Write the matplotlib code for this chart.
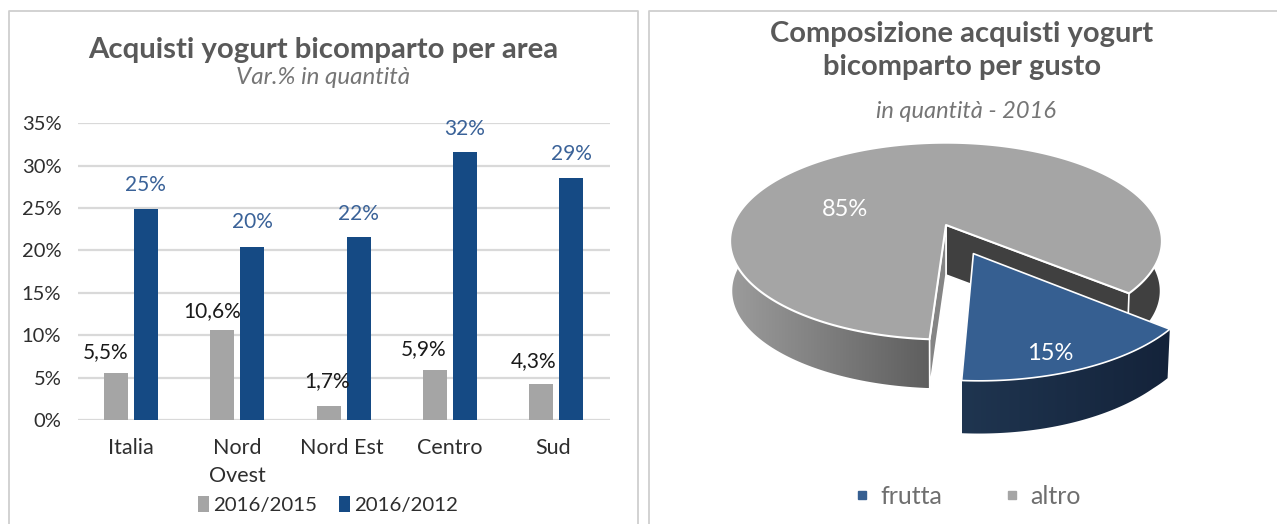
import matplotlib
matplotlib.use("Agg")
import matplotlib.pyplot as plt
from matplotlib.colors import LinearSegmentedColormap
from matplotlib.patches import Polygon
from matplotlib.lines import Line2D
from matplotlib.transforms import ScaledTranslation
import numpy as np

plt.rcParams['font.family'] = ['Lato', 'DejaVu Sans']

W, H = 1277, 524

# bar chart
areas = ["Italia", "Nord\nOvest", "Nord Est", "Centro", "Sud"]
var_2015 = [5.5, 10.6, 1.7, 5.9, 4.3]
var_2012 = [24.9, 20.4, 21.6, 31.6, 28.6]
yticks = [0, 5, 10, 15, 20, 25, 30, 35]
series_names = ["2016/2015", "2016/2012"]
# label nudges in px from the top-centre of each bar
nudge_2015 = [(-11, 21), (-10, 19), (-2, 24), (-11, 21), (-8, 22)]
nudge_2012 = [(-1, 24), (0, 25), (0, 23), (0, 23.5), (0, 24)]
# small sideways shift of the category names, px
area_shift = [0, 0, -2, 0, -3.5]

# pie chart
flavours = ["frutta", "altro"]
shares = [15, 85]

GREY = "#a5a5a5"
NAVY = "#154a84"
PIE_BLUE = "#365f91"
TEXT = "#2e2e2e"


def px_axes(x0, y0, x1, y1):
    return fig.add_axes([x0/W, 1 - y1/H, (x1 - x0)/W, (y1 - y0)/H])


def comma_pct(v):
    return f"{v:.1f}".replace(".", ",") + "%"


fig = plt.figure(figsize=(W/100, H/100), dpi=100)

# overlay in pixel coordinates, holds the frames and the pie
bg = fig.add_axes([0, 0, 1, 1])
bg.axis("off")

bg.plot([9, 9, 638, 638], [H, 10.5, 10.5, H], color="#cfcfcf", lw=1.3)
bg.plot([649, 649, W], [H, 10.5, 10.5], color="#cfcfcf", lw=1.3)

bg.text(323, 50, "Acquisti yogurt bicomparto per area", ha="center", va="center",
        fontsize=21.2, fontweight="bold", color="#595959")
bg.text(323, 78, "Var.% in quantità", ha="center", va="center",
        fontsize=17.4, style="italic", color="#757575")
bg.text(962, 34, "Composizione acquisti yogurt", ha="center", va="center",
        fontsize=21, fontweight="bold", color="#595959")
bg.text(962, 67, "bicomparto per gusto", ha="center", va="center",
        fontsize=21, fontweight="bold", color="#595959")
bg.text(966, 111, "in quantità - 2016", ha="center", va="center",
        fontsize=17, style="italic", color="#757575")

# bars
ax = px_axes(78, 123.3, 609.5, 420)
x = np.arange(len(areas))
b1 = ax.bar(x - 0.141, var_2015, width=0.226, color=GREY, label=series_names[0], zorder=3)
b2 = ax.bar(x + 0.141, var_2012, width=0.226, color=NAVY, label=series_names[1], zorder=3)
ax.set_xlim(-0.5, 4.5)
ax.set_ylim(0, 35)
ax.set_yticks(yticks)
ax.set_yticklabels([f"{t}%" for t in yticks])
ax.set_xticks(x)
ax.set_xticklabels(areas, linespacing=1.5)
ax.tick_params(axis="y", length=0, pad=12, labelsize=14.5, labelcolor=TEXT)
ax.tick_params(axis="x", length=0, pad=13, labelsize=15.5, labelcolor=TEXT)
for lab, dx in zip(ax.get_xticklabels(), area_shift):
    lab.set_transform(lab.get_transform() + ScaledTranslation(dx/100, 0, fig.dpi_scale_trans))
ax.grid(axis="y", color="#d9d9d9", lw=1.6, zorder=0)
ax.set_axisbelow(True)
for s in ax.spines.values():
    s.set_visible(False)
for v, xi, n in zip(var_2015, x - 0.141, nudge_2015):
    ax.annotate(comma_pct(v), (xi, v), xytext=(n[0]*0.72, n[1]*0.72), textcoords="offset points",
                ha="center", va="center", fontsize=15, color="#1a1a1a", zorder=5, annotation_clip=False)
for v, xi, n in zip(var_2012, x + 0.141, nudge_2012):
    ax.annotate(f"{v:.0f}%", (xi, v), xytext=(n[0]*0.72, n[1]*0.72), textcoords="offset points",
                ha="center", va="center", fontsize=15, color="#3a6298", zorder=5, annotation_clip=False)

fig.legend(handles=[b1, b2], loc="center", bbox_to_anchor=(328/W, 1 - 505/H), ncol=2, frameon=False,
           fontsize=14.7, handlelength=0.55, handleheight=0.8, handletextpad=0.2,
           columnspacing=1.05, labelcolor=TEXT)

# pie: perspective view of a unit disc
PX, PY = 946, 225
A, B, P = 213, 95.8, 0.1636
DEPTH, SHRINK = 50, 0.99
EXPLODE = 0.31
END_DEG = 93.7


def project(u, v, low=False):
    w = 1 - P*v
    if low:
        # the part that sticks out towards the viewer looks a bit thicker
        return PX + SHRINK*A*u/w, PY + SHRINK*B*v/w + DEPTH + 15*max(v - 1, 0)
    return PX + A*u/w, PY + B*v/w


def rim(deg, ox=0.0, oy=0.0, low=False):
    t = np.radians(deg)
    return project(np.cos(t) + ox, np.sin(t) + oy, low)


def wall(a0, a1, ox=0.0, oy=0.0):
    angs = np.linspace(a0, a1, 100)
    return [rim(d, ox, oy) for d in angs] + [rim(d, ox, oy, True) for d in angs[::-1]]


def shaded_wall(pts, left_col, right_col, z):
    # horizontal gradient clipped to the wall outline
    cmap = LinearSegmentedColormap.from_list("wall", [left_col, right_col])
    xs = [p[0] for p in pts]
    ys = [p[1] for p in pts]
    im = bg.imshow(np.linspace(0, 1, 256).reshape(1, -1), cmap=cmap, aspect="auto", zorder=z,
                   extent=(min(xs), max(xs), max(ys), min(ys)))
    poly = Polygon(pts, closed=True, fc="none", ec="none", zorder=z)
    bg.add_patch(poly)
    im.set_clip_path(poly)


blue_sweep = 360*shares[0]/sum(shares)
start_deg = END_DEG - blue_sweep
mid = np.radians(END_DEG - blue_sweep/2)
ox, oy = EXPLODE*np.cos(mid), EXPLODE*np.sin(mid)

# grey slice: outer wall, cut faces, top
bg.add_patch(Polygon(wall(start_deg, -12), fc="#404040", ec="none", zorder=2))
shaded_wall(wall(END_DEG, 192), "#9c9c9c", "#5e5e5e", 2)
r0 = rim(start_deg)
r1 = rim(END_DEG)
bot = (PX, PY + DEPTH)
bg.add_patch(Polygon([(PX, PY), r0, rim(start_deg, low=True), bot], fc="#404040", ec="white", lw=1.2, zorder=3))
bg.add_patch(Polygon([(PX, PY), r1, rim(END_DEG, low=True), bot], fc="#858585", ec="white", lw=1.2, zorder=3))
top = [(PX, PY)] + [rim(d) for d in np.linspace(start_deg, END_DEG - 360, 240)]
bg.add_patch(Polygon(top, fc=GREY, ec="white", lw=1.5, joinstyle="round", zorder=4))

# blue slice pulled out
shaded_wall(wall(END_DEG, start_deg, ox, oy), "#1f3550", "#14233a", 5)
top = [project(ox, oy)] + [rim(d, ox, oy) for d in np.linspace(start_deg, END_DEG, 60)]
bg.add_patch(Polygon(top, fc=PIE_BLUE, ec="white", lw=1.2, joinstyle="round", zorder=6))

bg.text(845, 210, f"{shares[1]}%", ha="center", va="center", fontsize=17, color="white", zorder=7)
bg.text(1050, 353, f"{shares[0]}%", ha="center", va="center", fontsize=17, color="white", zorder=7)

handles = [Line2D([], [], ls="", marker="s", ms=5.6, color=PIE_BLUE, label=flavours[0]),
           Line2D([], [], ls="", marker="s", ms=5.6, color=GREY, label=flavours[1])]
bg.set_xlim(0, W)
bg.set_ylim(H, 0)
bg.legend(handles=handles, loc="center", bbox_to_anchor=(959/W, 1 - 496/H), ncol=2, frameon=False,
          fontsize=18, handletextpad=-0.25, columnspacing=1.76, labelcolor="#6f6f6f")

fig.savefig("out.png", dpi=100)
